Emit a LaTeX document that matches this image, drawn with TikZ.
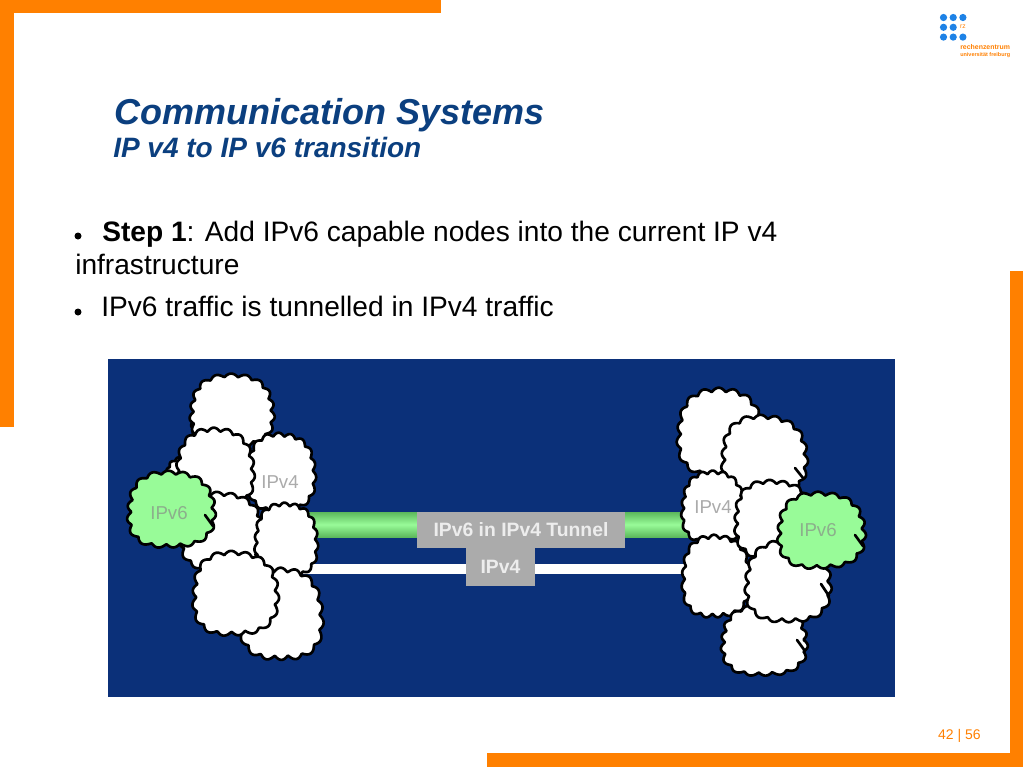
\documentclass[tikz,border=0pt]{standalone}
\usepackage{fontspec}
\setmainfont{Liberation Sans}
\usepackage{tikz}
\definecolor{barorange}{HTML}{FF8000}
\definecolor{titleblue}{HTML}{0B3F7F}
\definecolor{panelblue}{HTML}{0B3079}
\definecolor{boxgray}{HTML}{ABABAB}
\definecolor{cloudgreen}{HTML}{98FB98}
\definecolor{tubeedge}{HTML}{5CB85C}
\definecolor{dotblue}{HTML}{1E82E6}
\pgfdeclareverticalshading{tubeshade}{100bp}{color(0bp)=(tubeedge); color(25bp)=(tubeedge); color(50bp)=(cloudgreen); color(75bp)=(tubeedge); color(100bp)=(tubeedge)}
\newcommand{\cloudblob}[7]{% fill, x, y, rx, ry, bumps, phase
\draw[line width=2pt,line join=round,fill=#1] plot[domain=0:360,samples=241]
({#2+#4*(0.87+0.08*sin(2*\x)^2+0.09*abs(sin(#6*\x+#7))+0.025*sin(3*\x+#7))*cos(\x)},{#3+#5*(0.87+0.08*sin(2*\x)^2+0.09*abs(sin(#6*\x+#7))+0.025*sin(3*\x+#7))*sin(\x)})--cycle;}
\tikzset{
cloudlbl/.style={text=boxgray,font=\fontsize{14}{14}\selectfont},
greenlbl/.style={text=green!30!black!45!white,font=\fontsize{14}{14}\selectfont},
boxlbl/.style={text=white!93!black,font=\bfseries\fontsize{14.5}{14.5}\selectfont},
bodytxt/.style={anchor=base west,inner sep=0pt,font=\fontsize{21.1}{21.1}\selectfont},
dot/.style={circle,fill=dotblue,inner sep=0pt,minimum size=5.4pt},
cusp/.style={line width=2pt,line cap=round}
}
\begin{document}
\begin{tikzpicture}[x=0.75pt,y=-0.75pt]
\useasboundingbox (0,0) rectangle (1023,767);
\fill[white](0,0) rectangle (1023,767);
% orange bars
\fill[barorange](0,0) rectangle (441,13);
\fill[barorange](0,0) rectangle (14,427);
\fill[barorange](1010,271) rectangle (1023,767);
\fill[barorange](487,753) rectangle (1023,767);
% logo
\foreach \i/\j in {0/0,1/0,2/0,0/1,1/1,0/2,1/2,2/2}{
\node[dot] (dot\i\j) at (943.5+9.7*\i,17.5+9.8*\j) {};
}
\node[text=barorange,font=\fontsize{5}{5}\selectfont,inner sep=0pt] (rz) at (963,27) {rz};
\node[text=barorange,font=\bfseries\fontsize{5.2}{5.2}\selectfont,anchor=base west,inner sep=0pt] (rzname) at (960,49.5) {rechenzentrum};
\node[text=barorange,font=\bfseries\fontsize{4.1}{4.1}\selectfont,anchor=base west,inner sep=0pt] (rzuni) at (960,56) {universität freiburg};
% title
\node[text=titleblue,anchor=base west,inner sep=0pt,font=\bfseries\itshape\fontsize{27}{27}\selectfont] (title) at (114,124) {Communication Systems};
\node[text=titleblue,anchor=base west,inner sep=0pt,font=\bfseries\itshape\fontsize{21}{21}\selectfont] (subtitle) at (113,157) {IP v4 to IP v6 transition};
% text
\fill[black](78,236) circle (3.5);
\node[bodytxt] (stepone) at (102,241) {\textbf{Step 1}: Add IPv6 capable nodes into the current IP v4};
\node[bodytxt] (infra) at (75,274) {infrastructure};
\fill[black](78,312) circle (3.5);
\node[bodytxt] (traffic) at (101,316) {IPv6 traffic is tunnelled in IPv4 traffic};
% panel
\fill[panelblue](108,359) rectangle (895,697);
% tubes
\fill[shading=tubeshade](295,512) rectangle (700,537);
\fill[white](300,564) rectangle (690,574);
% left clouds
\cloudblob{white}{218}{420}{28}{26}{9}{20}
\cloudblob{white}{188}{480}{24}{24}{9}{40}
\cloudblob{white}{232}{411}{44}{38}{9}{10}
\cloudblob{white}{281}{473}{36}{41}{9}{35}
\cloudblob{white}{215}{470}{41}{43}{9}{15}
\cloudblob{white}{221}{532}{44}{41}{9}{50}
\cloudblob{white}{286}{541}{33}{39}{9}{25}
\cloudblob{white}{281}{615}{44}{48}{9}{5}
\cloudblob{white}{235}{594}{45}{44}{9}{45}
\cloudblob{cloudgreen}{171}{510}{46}{40}{9}{30}
\draw[cusp](205,515)--(213,526);
% right clouds
\cloudblob{white}{720}{433}{45}{46}{9}{15}
\cloudblob{white}{764}{457}{45}{43}{9}{40}
\draw[cusp](795,468)--(803,478);
\cloudblob{white}{713}{508}{33}{38}{9}{5}
\cloudblob{white}{716}{577}{36}{43}{9}{30}
\cloudblob{white}{774}{520}{42}{41}{9}{55}
\cloudblob{white}{764}{641}{45}{37}{9}{20}
\draw[cusp](797,640)--(805,651);
\cloudblob{white}{788}{582}{45}{43}{9}{10}
\draw[cusp](821,584)--(829,596);
\cloudblob{cloudgreen}{821}{531}{46}{40}{9}{35}
\draw[cusp](855,535)--(863,546);
% labels
\node[cloudlbl] (vfourL) at (280,482) {IPv4};
\node[greenlbl] (vsixL) at (169,513) {IPv6};
\node[cloudlbl] (vfourR) at (713,507) {IPv4};
\node[greenlbl] (vsixR) at (818,530) {IPv6};
% tunnel boxes
\node[fill=boxgray,inner sep=0pt,minimum width=156pt,minimum height=27pt,boxlbl] (tunnel) at (521,530) {IPv6 in IPv4 Tunnel};
\node[fill=boxgray,inner sep=0pt,minimum width=52pt,minimum height=28.5pt,boxlbl] (vfourbox) at (500.5,567) {IPv4};
% page number
\node[text=barorange,anchor=base east,inner sep=0pt,font=\fontsize{10.5}{10.5}\selectfont] (page) at (981,739) {42 | 56};
\end{tikzpicture}
\end{document}
